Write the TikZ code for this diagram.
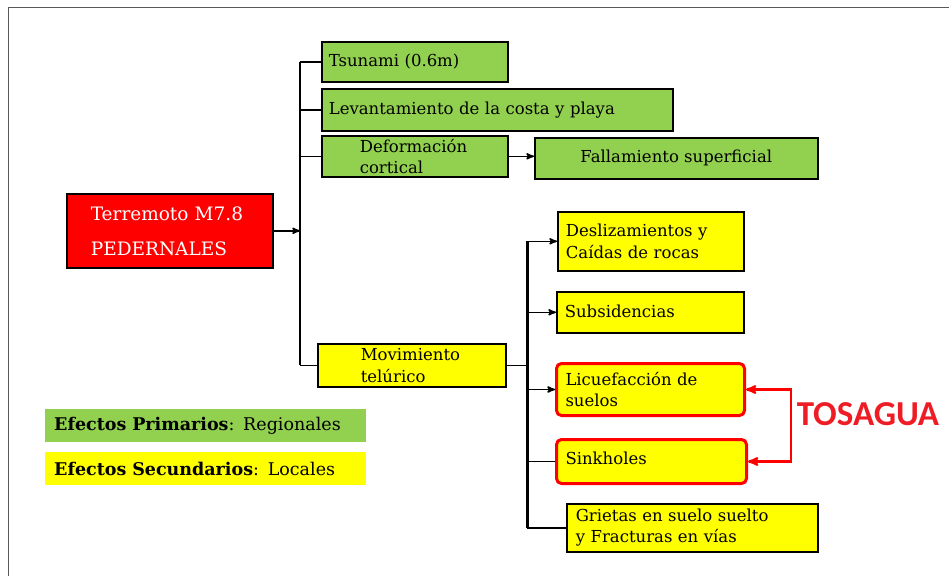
\documentclass[tikz,border=0pt]{standalone}
\usepackage{fontspec}
\setmainfont{DejaVu Serif}
\newfontfamily\tosfont{Carlito}
\usetikzlibrary{arrows}
\definecolor{fxgreen}{HTML}{92D050}
\definecolor{fxyellow}{HTML}{FFFF00}
\definecolor{fxred}{HTML}{FF0000}
\definecolor{tosred}{HTML}{EE1C24}

\begin{document}
\begin{tikzpicture}[x=1pt,y=-1pt,>=stealth',
    every node/.style={font=\fontsize{16.5}{21.5}\selectfont,inner sep=0pt,align=left},
    fx box/.style={draw,line width=1.6pt,anchor=north west},
    green box/.style={fx box,fill=fxgreen},
    yellow box/.style={fx box,fill=fxyellow},
    red ring/.style={yellow box,draw=fxred,line width=3pt,rounded corners=5pt},
    legend/.style={anchor=north west,minimum width=321,minimum height=33,
        text width=303,font=\fontsize{17.5}{21}\selectfont},
    link/.style={line width=1.6pt},
    red link/.style={draw=fxred,line width=2.4pt}]
    \useasboundingbox (0,0) rectangle (949,576);
    \draw[gray!70!black,line width=0.9pt] (8,576) -- (8,7) -- (949,7);

    \node[fx box,fill=fxred,text=white,font=\fontsize{18.5}{35}\selectfont,
        minimum width=206,minimum height=74,text width=158] (term) at (66,193)
        {Terremoto M7.8\\PEDERNALES};
    \node[green box,minimum width=186,minimum height=40,text width=172] (tsu) at (321,41)
        {\raisebox{3pt}{Tsunami (0.6m)}};
    \node[green box,minimum width=351,minimum height=42,text width=337] (lev) at (321,88)
        {\raisebox{4pt}{Levantamiento de la costa y playa}};
    \node[green box,minimum width=186,minimum height=41,text width=110] (def) at (321,135)
        {Deformación\\cortical};
    \node[green box,minimum width=283,minimum height=41,align=center] (fal) at (534,137)
        {Fallamiento superficial};
    \node[yellow box,minimum width=188,minimum height=43,text width=102] (mov) at (317,343)
        {Movimiento\\telúrico};
    \node[yellow box,minimum width=186,minimum height=59,text width=170] (des) at (557,211)
        {Deslizamientos y\\Caídas de rocas};
    \node[yellow box,minimum width=187,minimum height=41,text width=171] (sub) at (556,291)
        {\raisebox{3pt}{Subsidencias}};
    \node[red ring,minimum width=188,minimum height=52,text width=170] (lic) at (555,362)
        {Licuefacción de\\suelos};
    \node[red ring,minimum width=190,minimum height=44,text width=172] (sin) at (555,438)
        {\raisebox{7pt}{Sinkholes}};
    \node[yellow box,minimum width=251,minimum height=48,text width=233] (gri) at (566,503)
        {Grietas en suelo suelto\\y Fracturas en vías};

    \node[legend,fill=fxgreen] (prim) at (45,409) {\textbf{Efectos Primarios}: Regionales};
    \node[legend,fill=fxyellow] (sec) at (45,452) {\textbf{Efectos Secundarios}: Locales};

    \node[text=tosred,font=\tosfont\bfseries\fontsize{35}{36}\selectfont] (tos) at (868,414) {TOSAGUA};

    \coordinate (j1) at (300,229);
    \coordinate (j2) at (527,368);
    \coordinate (br) at (791,388);

    \draw[link,->] (term.east) -- (j1 |- term.east);
    \draw[link] (j1 |- tsu.west) -- (j1 |- mov.west);
    \draw[link] (j1 |- tsu.west) -- (tsu.west);
    \draw[link] (j1 |- lev.west) -- (lev.west);
    \draw[link] (j1 |- def.west) -- (def.west);
    \draw[link] (j1 |- mov.west) -- (mov.west);
    \draw[link,->] (def.east) -- (fal.west |- def.east);

    \draw[link] (mov.east) -- (j2 |- mov.east);
    \draw[line width=3pt] (j2 |- des.west) -- (j2 |- gri.west);
    \draw[link,->] (j2 |- des.west) -- (des.west);
    \draw[link,->] (j2 |- sub.west) -- (sub.west);
    \draw[link,->] (j2 |- lic.west) -- (lic.west);
    \draw[link] (j2 |- sin.west) -- (sin.west);
    \draw[link] (j2 |- gri.west) -- (gri.west);

    \draw[red link,<->] (lic.east) -- (br |- lic.east) -- (br |- sin.east) -- (sin.east);
\end{tikzpicture}
\end{document}
